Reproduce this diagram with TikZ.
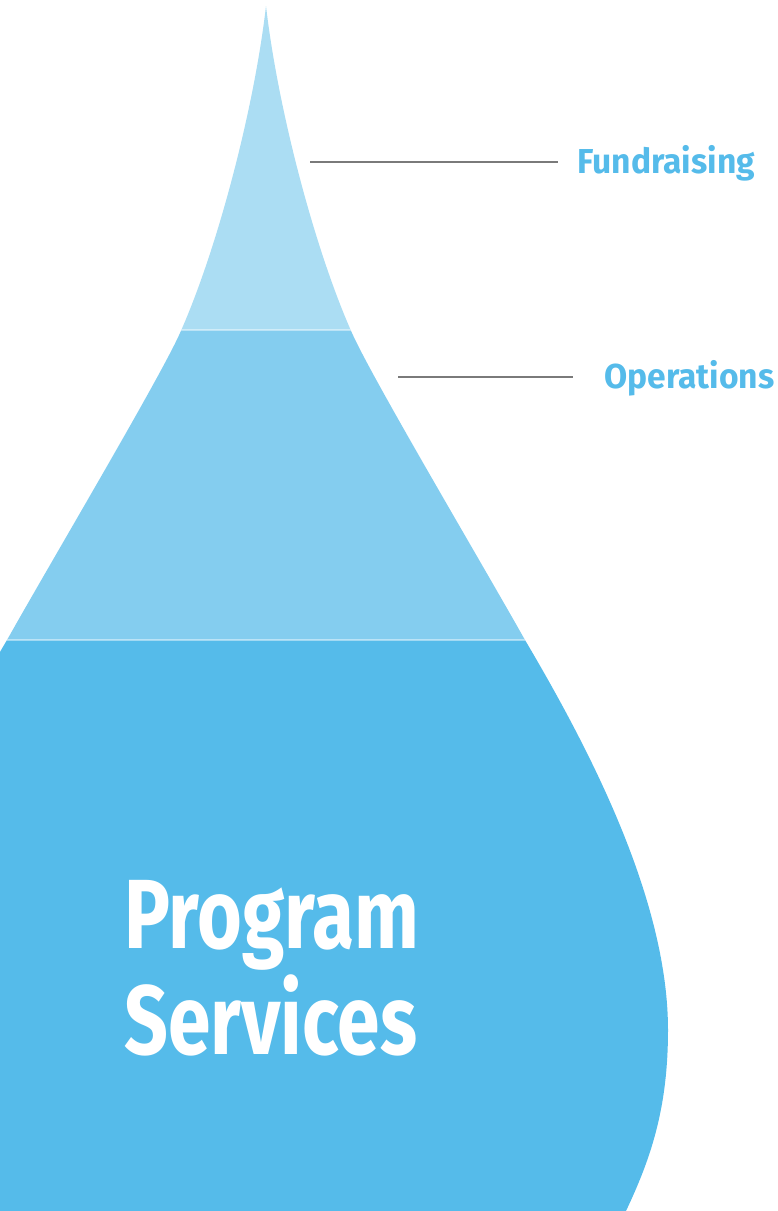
\documentclass[tikz,border=0pt]{standalone}
\usepackage{fontspec}
\setmainfont{Fira Sans}
\newfontfamily\dropfont[FakeStretch=0.78]{Fira Sans}
\newfontfamily\sidefont[FakeStretch=0.97]{Fira Sans}
\usepackage{xcolor}
\definecolor{dropTop}{HTML}{ABDDF3}
\definecolor{dropMid}{HTML}{84CDEF}
\definecolor{dropLow}{HTML}{55BBEA}
\definecolor{labBlue}{HTML}{55BBEA}
\definecolor{leadGray}{HTML}{7A7A7A}

\tikzset{
  sidelab/.style={font=\sidefont\bfseries\fontsize{19.7}{22}\selectfont,
                  text=labBlue,inner sep=0pt,anchor=west},
  leader/.style={draw=leadGray,line width=0.8pt},
  seam/.style={draw=white,draw opacity=0.45,line width=0.6pt}
}

\begin{document}
\begin{tikzpicture}[x=0.02cm,y=-0.02cm]
 \useasboundingbox (0,0) rectangle (778,1211);

 % the drop, cut in three layers
 \begin{scope}
  \clip (-68,1280) -- (-94,1211)
     .. controls (-118,1160) and (-136,1110) .. (-136,1030)
     .. controls (-136,900) and (-58,750) .. (7,640)
     .. controls (52,560) and (160,378) .. (180,333)
     .. controls (217,250) and (254,110) .. (266,6)
     .. controls (278,110) and (315,250) .. (352,333)
     .. controls (372,378) and (480,560) .. (525,640)
     .. controls (590,750) and (668,900) .. (668,1030)
     .. controls (668,1110) and (650,1160) .. (626,1211)
     -- (600,1280) -- cycle;
  \fill[dropTop] (-200,-10) rectangle (800,330);
  \fill[dropMid] (-200,330) rectangle (800,640);
  \fill[dropLow] (-200,640) rectangle (800,1300);
  \draw[seam] (-200,330) -- (800,330);
  \draw[seam] (-200,640) -- (800,640);
 \end{scope}

 \node[sidelab] (fund) at (577,163) {Fundraising};
 \node[sidelab] (oper) at (604,378) {Operations};

 \coordinate (fundEnd) at (310,162);
 \coordinate (operEnd) at (398,377);

 \draw[leader,shorten >=10.8pt] (fundEnd) -- (fundEnd -| fund.west);
 \draw[leader,shorten >=17.6pt] (operEnd) -- (operEnd -| oper.west);

 \node[font=\dropfont\bfseries\fontsize{56}{60.5}\selectfont,text=white,
       align=left,inner sep=0pt,anchor=north west] (prog) at (124,880)
      {Program\\Services};

\end{tikzpicture}
\end{document}
